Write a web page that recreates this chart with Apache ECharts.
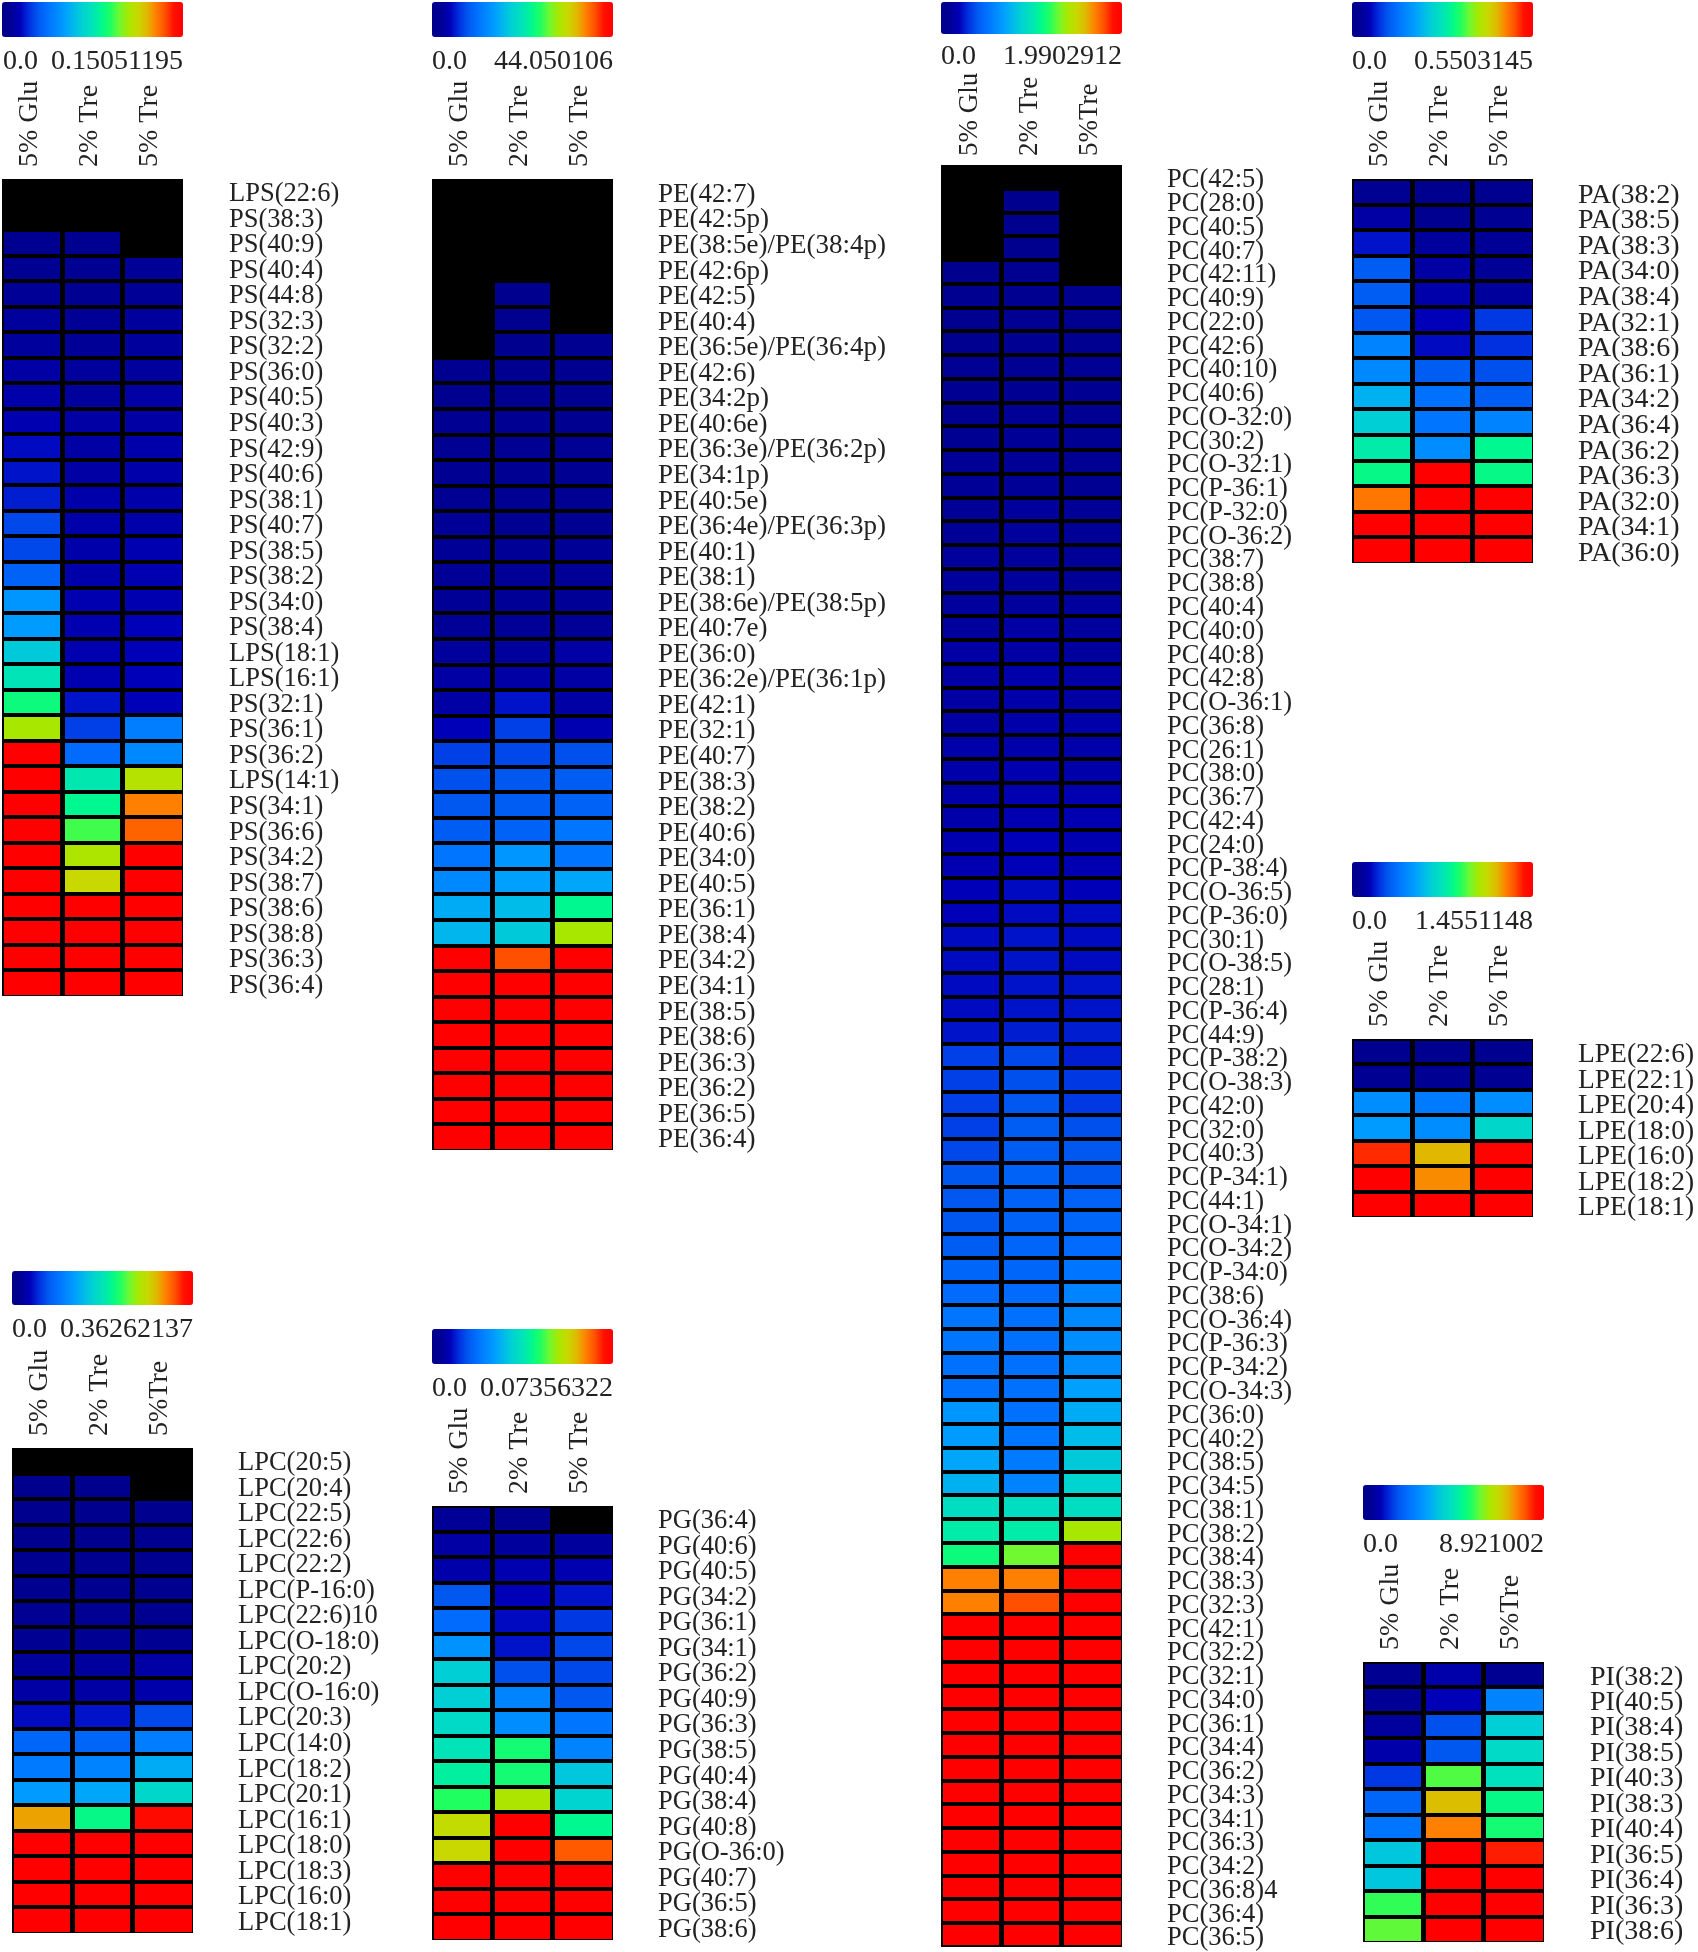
<!DOCTYPE html>
<html>
<head>
<meta charset="utf-8">
<title>Lipid heatmaps</title>
<script src="https://cdn.jsdelivr.net/npm/echarts@6/dist/echarts.min.js"></script>
<style>
    html, body { margin: 0; padding: 0; background: #fff; }
    #main { width: 1698px; height: 1952px; }
</style>
</head>
<body>
<div id="main"></div>
<script>
// cell values are read off the colour bar, in percent of each panel's scale maximum
// null = black cell (not detected)
const n = null;

const colsSpaced = ['5% Glu', '2% Tre', '5% Tre'];
const colsTight = ['5% Glu', '2% Tre', '5%Tre'];

const psScale = ['0.0', '0.15051195'];
const psMax = 0.15051195;
const psRows = ['LPS(22:6)', 'PS(38:3)', 'PS(40:9)', 'PS(40:4)', 'PS(44:8)', 'PS(32:3)', 'PS(32:2)', 'PS(36:0)', 'PS(40:5)', 'PS(40:3)', 'PS(42:9)', 'PS(40:6)', 'PS(38:1)', 'PS(40:7)', 'PS(38:5)', 'PS(38:2)', 'PS(34:0)', 'PS(38:4)', 'LPS(18:1)', 'LPS(16:1)', 'PS(32:1)', 'PS(36:1)', 'PS(36:2)', 'LPS(14:1)', 'PS(34:1)', 'PS(36:6)', 'PS(34:2)', 'PS(38:7)', 'PS(38:6)', 'PS(38:8)', 'PS(36:3)', 'PS(36:4)'];
const psGlu = [n, n, 3, 4, 5, 6, 6, 7, 8, 9, 11, 12, 13, 18, 18, 22, 33, 34, 43, 50, 57, 70, 100, 100, 100, 100, 100, 100, 100, 100, 100, 100];
const psTre2 = [n, n, 3, 4, 4, 5, 5, 6, 6, 7, 7, 7, 8, 8, 8, 8, 9, 9, 9, 9, 12, 17, 24, 51, 55, 62, 71, 75, 100, 100, 100, 100];
const psTre5 = [n, n, n, 5, 5, 6, 6, 6, 7, 7, 8, 8, 8, 8, 9, 9, 9, 10, 10, 10, 10, 28, 30, 72, 85, 88, 100, 100, 100, 100, 100, 100];

const peScale = ['0.0', '44.050106'];
const peMax = 44.050106;
const peRows = ['PE(42:7)', 'PE(42:5p)', 'PE(38:5e)/PE(38:4p)', 'PE(42:6p)', 'PE(42:5)', 'PE(40:4)', 'PE(36:5e)/PE(36:4p)', 'PE(42:6)', 'PE(34:2p)', 'PE(40:6e)', 'PE(36:3e)/PE(36:2p)', 'PE(34:1p)', 'PE(40:5e)', 'PE(36:4e)/PE(36:3p)', 'PE(40:1)', 'PE(38:1)', 'PE(38:6e)/PE(38:5p)', 'PE(40:7e)', 'PE(36:0)', 'PE(36:2e)/PE(36:1p)', 'PE(42:1)', 'PE(32:1)', 'PE(40:7)', 'PE(38:3)', 'PE(38:2)', 'PE(40:6)', 'PE(34:0)', 'PE(40:5)', 'PE(36:1)', 'PE(38:4)', 'PE(34:2)', 'PE(34:1)', 'PE(38:5)', 'PE(38:6)', 'PE(36:3)', 'PE(36:2)', 'PE(36:5)', 'PE(36:4)'];
const peGlu = [n, n, n, n, n, n, n, 3, 3, 4, 4, 4, 4, 5, 5, 5, 5, 5, 6, 7, 7, 10, 17, 19, 20, 21, 26, 30, 37, 39, 100, 100, 100, 100, 100, 100, 100, 100];
const peTre2 = [n, n, n, n, 2, 2, 2, 3, 3, 4, 4, 4, 4, 4, 5, 5, 5, 5, 6, 7, 12, 17, 18, 20, 21, 22, 33, 35, 40, 43, 90, 100, 100, 100, 100, 100, 100, 100];
const peTre5 = [n, n, n, n, n, n, 3, 3, 3, 3, 4, 4, 4, 4, 5, 5, 5, 5, 7, 7, 7, 9, 19, 21, 22, 26, 26, 36, 55, 70, 100, 100, 100, 100, 100, 100, 100, 100];

const pcScale = ['0.0', '1.9902912'];
const pcMax = 1.9902912;
const pcRows = ['PC(42:5)', 'PC(28:0)', 'PC(40:5)', 'PC(40:7)', 'PC(42:11)', 'PC(40:9)', 'PC(22:0)', 'PC(42:6)', 'PC(40:10)', 'PC(40:6)', 'PC(O-32:0)', 'PC(30:2)', 'PC(O-32:1)', 'PC(P-36:1)', 'PC(P-32:0)', 'PC(O-36:2)', 'PC(38:7)', 'PC(38:8)', 'PC(40:4)', 'PC(40:0)', 'PC(40:8)', 'PC(42:8)', 'PC(O-36:1)', 'PC(36:8)', 'PC(26:1)', 'PC(38:0)', 'PC(36:7)', 'PC(42:4)', 'PC(24:0)', 'PC(P-38:4)', 'PC(O-36:5)', 'PC(P-36:0)', 'PC(30:1)', 'PC(O-38:5)', 'PC(28:1)', 'PC(P-36:4)', 'PC(44:9)', 'PC(P-38:2)', 'PC(O-38:3)', 'PC(42:0)', 'PC(32:0)', 'PC(40:3)', 'PC(P-34:1)', 'PC(44:1)', 'PC(O-34:1)', 'PC(O-34:2)', 'PC(P-34:0)', 'PC(38:6)', 'PC(O-36:4)', 'PC(P-36:3)', 'PC(P-34:2)', 'PC(O-34:3)', 'PC(36:0)', 'PC(40:2)', 'PC(38:5)', 'PC(34:5)', 'PC(38:1)', 'PC(38:2)', 'PC(38:4)', 'PC(38:3)', 'PC(32:3)', 'PC(42:1)', 'PC(32:2)', 'PC(32:1)', 'PC(34:0)', 'PC(36:1)', 'PC(34:4)', 'PC(36:2)', 'PC(34:3)', 'PC(34:1)', 'PC(36:3)', 'PC(34:2)', 'PC(36:8)4', 'PC(36:4)', 'PC(36:5)'];
const pcGlu = [n, n, n, n, 2, 3, 3, 3, 4, 4, 4, 4, 5, 5, 5, 5, 6, 6, 6, 6, 7, 7, 7, 7, 8, 8, 8, 8, 9, 9, 10, 10, 11, 11, 11, 11, 12, 17, 17, 17, 17, 18, 20, 20, 20, 21, 23, 24, 26, 26, 25, 25, 33, 34, 36, 38, 48, 52, 57, 85, 85, 100, 100, 100, 100, 100, 100, 100, 100, 100, 100, 100, 100, 100, 100];
const pcTre2 = [n, 2, 2, 2, 3, 3, 4, 4, 4, 4, 5, 5, 5, 5, 6, 6, 6, 6, 6, 7, 7, 8, 8, 8, 8, 9, 9, 9, 10, 10, 11, 11, 12, 12, 12, 12, 13, 18, 19, 20, 21, 21, 22, 22, 22, 23, 23, 24, 25, 25, 25, 25, 25, 26, 27, 29, 48, 52, 65, 85, 90, 100, 100, 100, 100, 100, 100, 100, 100, 100, 100, 100, 100, 100, 100];
const pcTre5 = [n, n, n, n, n, 3, 3, 3, 4, 4, 4, 4, 4, 4, 5, 5, 5, 5, 6, 6, 6, 7, 7, 8, 8, 8, 9, 9, 9, 9, 10, 11, 11, 11, 12, 12, 13, 13, 16, 16, 19, 20, 20, 22, 23, 24, 26, 29, 30, 31, 31, 35, 37, 40, 43, 45, 48, 70, 100, 100, 100, 100, 100, 100, 100, 100, 100, 100, 100, 100, 100, 100, 100, 100, 100];

const paScale = ['0.0', '0.5503145'];
const paMax = 0.5503145;
const paRows = ['PA(38:2)', 'PA(38:5)', 'PA(38:3)', 'PA(34:0)', 'PA(38:4)', 'PA(32:1)', 'PA(38:6)', 'PA(36:1)', 'PA(34:2)', 'PA(36:4)', 'PA(36:2)', 'PA(36:3)', 'PA(32:0)', 'PA(34:1)', 'PA(36:0)'];
const paGlu = [4, 7, 12, 21, 21, 20, 29, 30, 38, 44, 52, 56, 86, 100, 100];
const paTre2 = [2, 3, 6, 7, 8, 10, 11, 21, 25, 26, 31, 100, 100, 100, 100];
const paTre5 = [3, 4, 5, 5, 6, 16, 15, 19, 21, 29, 55, 56, 100, 100, 100];

const lpeScale = ['0.0', '1.4551148'];
const lpeMax = 1.4551148;
const lpeRows = ['LPE(22:6)', 'LPE(22:1)', 'LPE(20:4)', 'LPE(18:0)', 'LPE(16:0)', 'LPE(18:2)', 'LPE(18:1)'];
const lpeGlu = [3, 4, 31, 34, 93, 100, 100];
const lpeTre2 = [3, 4, 27, 31, 80, 84, 100];
const lpeTre5 = [3, 4, 31, 46, 99, 100, 100];

const piScale = ['0.0', '8.921002'];
const piMax = 8.921002;
const piRows = ['PI(38:2)', 'PI(40:5)', 'PI(38:4)', 'PI(38:5)', 'PI(40:3)', 'PI(38:3)', 'PI(40:4)', 'PI(36:5)', 'PI(36:4)', 'PI(36:3)', 'PI(38:6)'];
const piGlu = [4, 5, 6, 8, 16, 23, 26, 42, 42, 61, 64];
const piTre2 = [8, 10, 19, 20, 63, 79, 85, 100, 100, 100, 100];
const piTre5 = [4, 29, 44, 47, 49, 56, 58, 94, 100, 100, 100];

const lpcScale = ['0.0', '0.36262137'];
const lpcMax = 0.36262137;
const lpcRows = ['LPC(20:5)', 'LPC(20:4)', 'LPC(22:5)', 'LPC(22:6)', 'LPC(22:2)', 'LPC(P-16:0)', 'LPC(22:6)10', 'LPC(O-18:0)', 'LPC(20:2)', 'LPC(O-16:0)', 'LPC(20:3)', 'LPC(14:0)', 'LPC(18:2)', 'LPC(20:1)', 'LPC(16:1)', 'LPC(18:0)', 'LPC(18:3)', 'LPC(16:0)', 'LPC(18:1)'];
const lpcGlu = [n, 2, 2, 2, 3, 3, 4, 4, 6, 7, 11, 23, 27, 34, 82, 100, 100, 100, 100];
const lpcTre2 = [n, 2, 2, 2, 3, 3, 4, 4, 6, 7, 12, 23, 29, 36, 56, 100, 100, 100, 100];
const lpcTre5 = [n, n, 2, 3, 3, 3, 3, 4, 7, 8, 18, 28, 37, 46, 97, 100, 100, 100, 100];

const pgScale = ['0.0', '0.07356322'];
const pgMax = 0.07356322;
const pgRows = ['PG(36:4)', 'PG(40:6)', 'PG(40:5)', 'PG(34:2)', 'PG(36:1)', 'PG(34:1)', 'PG(36:2)', 'PG(40:9)', 'PG(36:3)', 'PG(38:5)', 'PG(40:4)', 'PG(38:4)', 'PG(40:8)', 'PG(O-36:0)', 'PG(40:7)', 'PG(36:5)', 'PG(38:6)'];
const pgGlu = [5, 7, 8, 20, 24, 32, 44, 44, 47, 50, 53, 60, 74, 75, 100, 100, 100];
const pgTre2 = [3, 6, 9, 10, 11, 12, 19, 29, 31, 58, 58, 71, 100, 100, 100, 100, 100];
const pgTre5 = [n, 6, 9, 12, 16, 18, 18, 20, 26, 29, 42, 45, 55, 89, 100, 100, 100];

// colour bar stops, evenly spaced from 0 to the scale maximum
const rampColors = ['#000088', '#000096', '#0000b8', '#0030e0', '#0058f0', '#0070ff', '#0088ff', '#00a0ff', '#00bce8', '#00d4d0', '#00e4b8', '#00f890', '#20ff60', '#70f830', '#a8e800', '#c8d800', '#e0b800', '#ff8000', '#ff5000', '#ff1000', '#ff0000'];

const textColor = '#222';
const serif = '"Liberation Serif", serif';

// one entry per heatmap, the rest of the keys are the pixel layout of the panel
const panels = [
    { rows: psRows, cols: colsSpaced, glu: psGlu, tre2: psTre2, tre5: psTre5, max: psMax, scale: psScale, x: 2, barTop: 2, barH: 35, top: 179, bottom: 996, labelX: 229, labelFont: 26.5, labelDrop: 5, headFont: 28, headGap: 12, headShift: 6, scaleGap: 10 },
    { rows: peRows, cols: colsSpaced, glu: peGlu, tre2: peTre2, tre5: peTre5, max: peMax, scale: peScale, x: 432, barTop: 2, barH: 35, top: 179, bottom: 1150, labelX: 658, labelFont: 27, labelDrop: 6, headFont: 28, headGap: 12, headShift: 6, scaleGap: 10 },
    { rows: pcRows, cols: colsTight, glu: pcGlu, tre2: pcTre2, tre5: pcTre5, max: pcMax, scale: pcScale, x: 941, barTop: 2, barH: 32, top: 165, bottom: 1947, labelX: 1167, labelFont: 26.5, labelDrop: 7, headFont: 27, headGap: 9, headShift: 3, scaleGap: 8 },
    { rows: paRows, cols: colsSpaced, glu: paGlu, tre2: paTre2, tre5: paTre5, max: paMax, scale: paScale, x: 1352, barTop: 2, barH: 35, top: 179, bottom: 563, labelX: 1578, labelFont: 28, labelDrop: 7, headFont: 28, headGap: 12, headShift: 6, scaleGap: 10 },
    { rows: lpeRows, cols: colsSpaced, glu: lpeGlu, tre2: lpeTre2, tre5: lpeTre5, max: lpeMax, scale: lpeScale, x: 1352, barTop: 862, barH: 35, top: 1039, bottom: 1217, labelX: 1578, labelFont: 27.5, labelDrop: 7, headFont: 28, headGap: 12, headShift: 6, scaleGap: 10 },
    { rows: piRows, cols: colsTight, glu: piGlu, tre2: piTre2, tre5: piTre5, max: piMax, scale: piScale, x: 1363, barTop: 1485, barH: 35, top: 1662, bottom: 1942, labelX: 1590, labelFont: 28, labelDrop: 5, headFont: 28, headGap: 12, headShift: 6, scaleGap: 10 },
    { rows: lpcRows, cols: colsTight, glu: lpcGlu, tre2: lpcTre2, tre5: lpcTre5, max: lpcMax, scale: lpcScale, x: 12, barTop: 1271, barH: 34, top: 1448, bottom: 1933, labelX: 238, labelFont: 26.5, labelDrop: 5, headFont: 28, headGap: 12, headShift: 6, scaleGap: 10 },
    { rows: pgRows, cols: colsSpaced, glu: pgGlu, tre2: pgTre2, tre5: pgTre5, max: pgMax, scale: pgScale, x: 432, barTop: 1329, barH: 35, top: 1506, bottom: 1940, labelX: 658, labelFont: 26.5, labelDrop: 5, headFont: 28, headGap: 12, headShift: 6, scaleGap: 10 }
];

const panelWidth = 181;
const grid = [];
const xAxis = [];
const yAxis = [];
const series = [];
const visualMap = [];

// cells are inset from their band so the black grid background forms the lines
function renderCell(rowCount) {
    return (params, api) => {
        const c = api.value(0);
        const r = api.value(1);
        const center = api.coord([c, r]);
        const size = api.size([1, 1]);
        const left = Math.round(center[0] - size[0] / 2 + (c === 0 ? 1.5 : 2.2));
        const right = Math.round(center[0] + size[0] / 2 - (c === 2 ? 1.5 : 2.2));
        const top = Math.round(center[1] - size[1] / 2 + (r === 0 ? 1.5 : 2));
        const bottom = Math.round(center[1] + size[1] / 2 - (r === rowCount - 1 ? 1.5 : 2));
        return {
            type: 'rect',
            shape: { x: left, y: top, width: right - left, height: bottom - top },
            style: { fill: api.visual('color') }
        };
    };
}

panels.forEach((p, i) => {
    const heatIdx = grid.length;

    grid.push({
        left: p.x,
        top: p.top,
        width: panelWidth,
        height: p.bottom - p.top,
        show: true,
        backgroundColor: '#000',
        borderWidth: 0
    });
    xAxis.push({
        type: 'category',
        gridIndex: heatIdx,
        position: 'top',
        data: p.cols,
        axisLine: { show: false },
        axisTick: { show: false },
        splitLine: { show: false },
        axisLabel: {
            interval: 0,
            rotate: -90,
            margin: p.headGap,
            // a small lineHeight with bottom align nudges the text off the band centre
            verticalAlign: 'bottom',
            lineHeight: p.headShift,
            fontFamily: serif,
            fontSize: p.headFont,
            color: textColor
        }
    });
    yAxis.push({
        type: 'category',
        gridIndex: heatIdx,
        position: 'right',
        inverse: true,
        data: p.rows,
        axisLine: { show: false },
        axisTick: { show: false },
        splitLine: { show: false },
        axisLabel: {
            interval: 0,
            margin: p.labelX - p.x - panelWidth,
            // labels sit a little below the row centre
            verticalAlign: 'top',
            lineHeight: p.labelDrop,
            fontFamily: serif,
            fontSize: p.labelFont,
            color: textColor
        }
    });

    const cells = [];
    [p.glu, p.tre2, p.tre5].forEach((col, c) => {
        col.forEach((pct, r) => {
            if (pct !== null) {
                cells.push([c, r, (pct / 100) * p.max]);
            }
        });
    });
    series.push({
        type: 'custom',
        xAxisIndex: heatIdx,
        yAxisIndex: heatIdx,
        data: cells,
        encode: { x: 0, y: 1 },
        silent: true,
        renderItem: renderCell(p.rows.length)
    });

    // colour bar
    visualMap.push({
        type: 'continuous',
        seriesIndex: i,
        dimension: 2,
        min: 0,
        max: p.max,
        orient: 'horizontal',
        left: p.x,
        top: p.barTop,
        padding: 0,
        itemWidth: p.barH,
        itemHeight: panelWidth,
        calculable: false,
        realtime: false,
        hoverLink: false,
        showLabel: false,
        text: null,
        inRange: { color: rampColors }
    });

    // scale under the colour bar, only the two ends are labelled
    const scaleIdx = grid.length;
    grid.push({ left: p.x, top: p.barTop + p.barH, width: panelWidth, height: 1 });
    xAxis.push({
        type: 'value',
        gridIndex: scaleIdx,
        position: 'bottom',
        min: 0,
        max: p.max,
        interval: p.max,
        axisLine: { show: false },
        axisTick: { show: false },
        splitLine: { show: false },
        axisLabel: {
            margin: p.scaleGap,
            alignMinLabel: 'left',
            alignMaxLabel: 'right',
            fontFamily: serif,
            fontSize: 28,
            color: textColor,
            formatter: (v) => (v === 0 ? p.scale[0] : p.scale[1])
        }
    });
    yAxis.push({ type: 'value', gridIndex: scaleIdx, show: false });
});

const myChart = echarts.init(document.getElementById('main'));
myChart.setOption({
    animation: false,
    backgroundColor: '#fff',
    grid,
    xAxis,
    yAxis,
    visualMap,
    series
});
</script>
</body>
</html>
